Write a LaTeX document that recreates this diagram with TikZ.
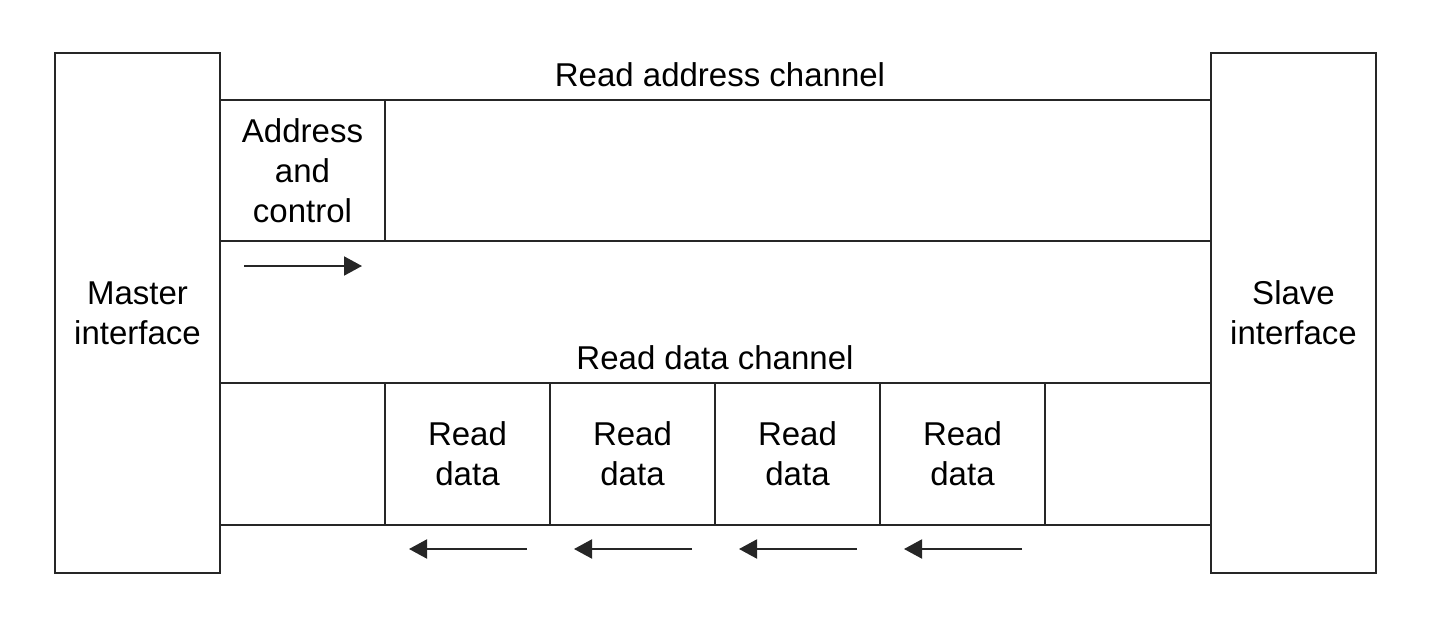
\documentclass[tikz,border=0pt]{standalone}
\usepackage{fontspec}
\setmainfont{Liberation Sans}
\usetikzlibrary{arrows.meta}
\begin{document}
\begin{tikzpicture}[x=1pt,y=-1pt,
  every node/.style={font=\fontsize{33}{40}\selectfont},
  box/.style={draw=black!85,line width=2pt,rectangle,inner sep=0pt,align=center},
  ln/.style={draw=black!85,line width=2pt},
  flow/.style={line width=2pt,draw=black!85,-{Triangle[length=18pt 0 0,width=19pt 0 0]}}]
\useasboundingbox (0,0) rectangle (1434,626);
% master / slave
\node[box,minimum width=165pt,minimum height=520pt] (master) at (137.5,313) {Master\\interface};
\node[box,minimum width=165pt,minimum height=520pt] (slave) at (1293.5,313) {Slave\\interface};
% read address channel
\draw[ln] (220,100) -- (1211,100);
\draw[ln] (220,241) -- (1211,241);
\node[box,minimum width=165pt,minimum height=141pt] (addr) at (302.5,170.5) {Address\\and\\control};
\node (rac) at (720,75) {Read address channel};
% read data channel
\node (rdc) at (715,358) {Read data channel};
\draw[ln] (220,383) -- (1211,383);
\draw[ln] (220,525) -- (1211,525);
\foreach \i/\x in {1/467.5,2/632.5,3/797.5,4/962.5}{
  \node[box,minimum width=165pt,minimum height=142pt] (rd\i) at (\x,454) {Read\\data};
}
% arrows
\coordinate (a0s) at (244,266);
\coordinate (a0e) at (362,266);
\draw[flow] (a0s) -- (a0e);
\foreach \i/\x in {1/527,2/692,3/857,4/1022}{
  \coordinate (b\i s) at (\x,549);
  \coordinate (b\i e) at (\x-118,549);
  \draw[flow] (b\i s) -- (b\i e);
}
\end{tikzpicture}
\end{document}
